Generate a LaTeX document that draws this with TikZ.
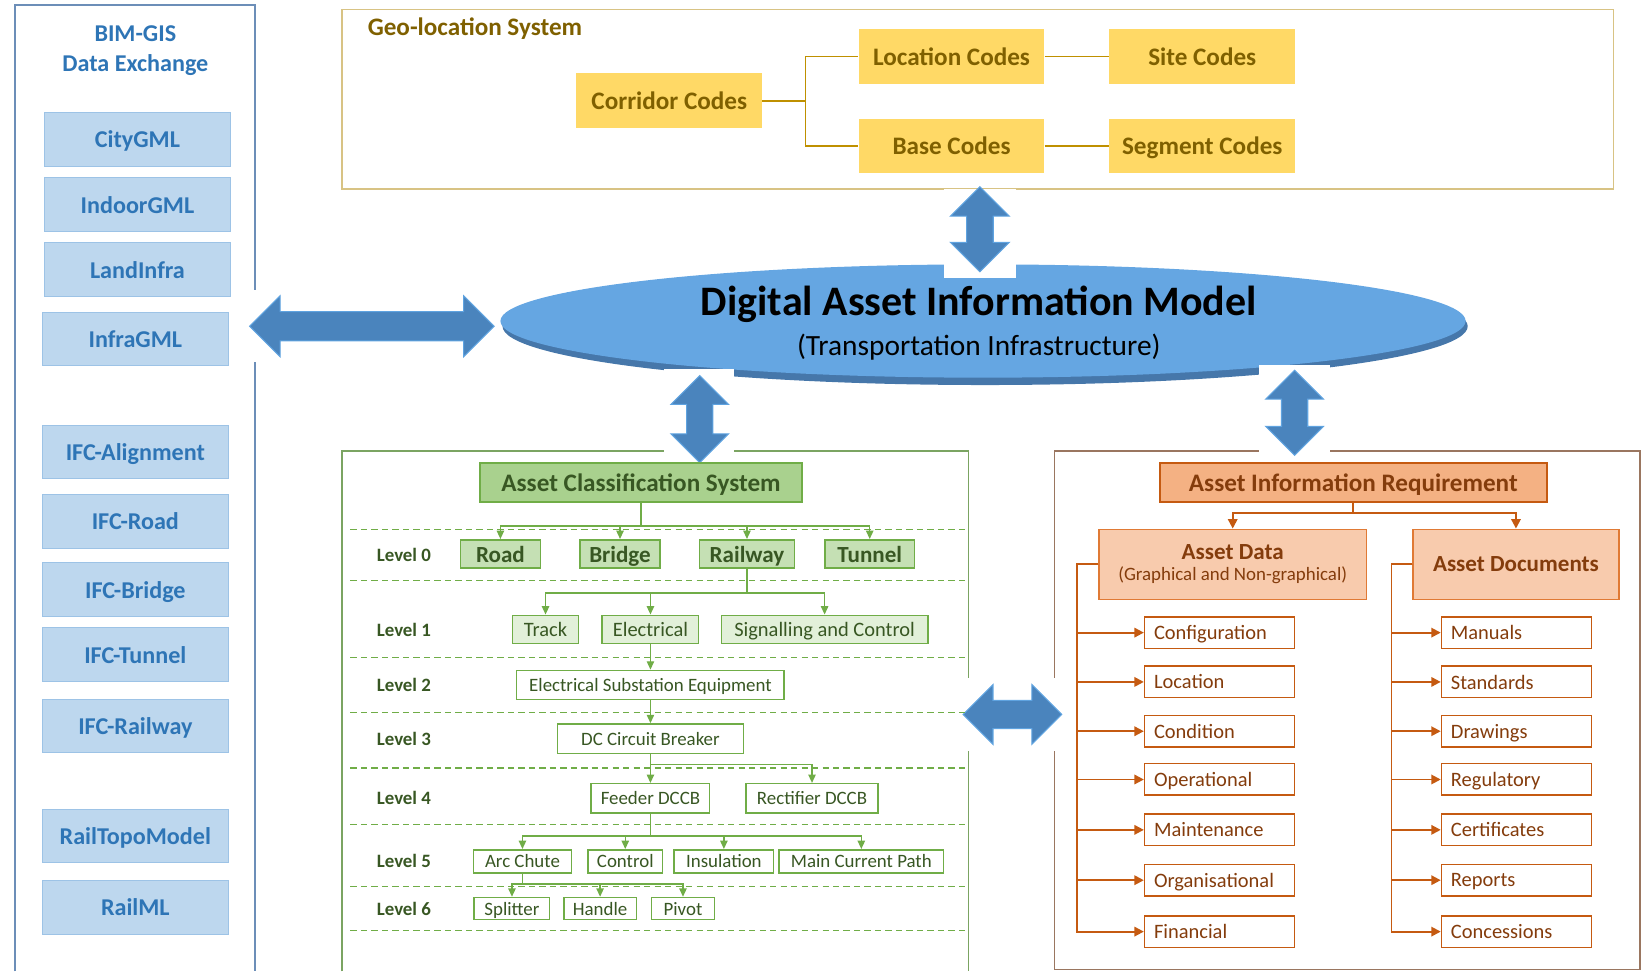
\documentclass[tikz,border=0pt]{standalone}
\usepackage{fontspec}
\setmainfont{Carlito}
\usetikzlibrary{shapes.geometric,shapes.arrows,arrows.meta}

\definecolor{gisfill}{HTML}{BDD7EE}
\definecolor{gisedge}{HTML}{9DC3E6}
\definecolor{gistext}{HTML}{2E75B6}
\definecolor{gisline}{HTML}{6C8EB8}
\definecolor{geoline}{HTML}{D8C384}
\definecolor{codefill}{HTML}{FFD966}
\definecolor{codetext}{HTML}{7F6000}
\definecolor{geolink}{HTML}{BF9000}
\definecolor{damfill}{HTML}{65A6E2}
\definecolor{damrim}{HTML}{4677AA}
\definecolor{arrowfill}{HTML}{4A84BD}
\definecolor{arrowedge}{HTML}{5FA3E0}
\definecolor{accline}{HTML}{7BA462}
\definecolor{accfill}{HTML}{A9D18E}
\definecolor{accedge}{HTML}{70AD47}
\definecolor{acctext}{HTML}{385723}
\definecolor{lvlzero}{HTML}{C5E0B4}
\definecolor{lvlone}{HTML}{E2F0D9}
\definecolor{airline}{HTML}{9A7660}
\definecolor{airfill}{HTML}{F4B183}
\definecolor{airedge}{HTML}{C55A11}
\definecolor{airtext}{HTML}{843C0C}
\definecolor{datafill}{HTML}{F8CBAD}
\definecolor{dataedge}{HTML}{E07A35}

\newcommand{\fsz}[1]{\fontsize{#1}{#1}\selectfont}

\tikzset{
  nodepth/.style={text depth=0pt},
  gisbox/.style={fill=gisfill, draw=gisedge, line width=1, text=gistext, nodepth,
    font=\bfseries\fsz{23}, minimum width=177, minimum height=51, inner sep=0},
  codebox/.style={fill=codefill, text=codetext, font=\bfseries\fsz{24}, nodepth,
    minimum width=177, minimum height=52, inner sep=0},
  geolinkline/.style={geolink, line width=1.6},
  bigarrow/.style={shape=double arrow, fill=arrowfill, draw=arrowedge, line width=1,
    inner xsep=0, double arrow head extend=15, double arrow head indent=0},
  levellabel/.style={text=acctext, font=\bfseries\fsz{18}},
  accbox/.style={draw=accedge, line width=1.4, text=acctext, inner sep=0, nodepth},
  lzbox/.style={accbox, fill=lvlzero, font=\bfseries\fsz{22}, minimum height=27},
  lobox/.style={accbox, fill=lvlone, font=\fsz{19.5}, minimum height=27},
  lnbox/.style={accbox, fill=white, font=\fsz{18}, minimum height=28},
  lsbox/.style={accbox, fill=white, font=\fsz{18}, minimum height=22},
  acclink/.style={accedge, line width=1.4, -{Triangle[width=7,length=8]}},
  airbox/.style={fill=datafill, draw=dataedge, line width=1.4, text=airtext, inner sep=0},
  itembox/.style={draw=airedge, line width=1.4, fill=white, text=airtext, font=\fsz{19.5},
    text width=125, inner xsep=9, inner ysep=0, minimum height=30, align=left, nodepth},
  airlink/.style={airedge, line width=1.8, -{Triangle[width=9,length=9]}}
}

\begin{document}
\begin{tikzpicture}[x=1pt,y=-1pt]
\useasboundingbox (0,0) rectangle (1568,925.6);

% panels
\draw [gisline, line width=1.6] (14,926) -- (14,5) -- (243,5) -- (243,926);
\draw [geoline, line width=1.6] (326,9) rectangle (1538,180);
\draw [accline, line width=1.4] (326,926) -- (326,430) -- (923,430) -- (923,926);
\draw [airline, line width=1.6] (1005,430) rectangle (1563,924);

% BIM-GIS data exchange
\node [text=gistext, font=\bfseries\fsz{23}, align=center] (gistitle) at (129,48.5)
  {BIM-GIS\\[6pt]Data Exchange};
\node [gisbox] (citygml) at (131,133) {CityGML};
\node [gisbox] (indoorgml) at (131,195) {IndoorGML};
\node [gisbox] (landinfra) at (131,257) {LandInfra};
\node [gisbox] (infragml) at (129,323) {InfraGML};
\node [gisbox] (ifcalign) at (129,431) {IFC-Alignment};
\node [gisbox] (ifcroad) at (129,497) {IFC-Road};
\node [gisbox] (ifcbridge) at (129,562) {IFC-Bridge};
\node [gisbox] (ifctunnel) at (129,624) {IFC-Tunnel};
\node [gisbox] (ifcrailway) at (129,692) {IFC-Railway};
\node [gisbox] (railtopo) at (129,797) {RailTopoModel};
\node [gisbox] (railml) at (129,865) {RailML};

% geo-location system
\node [text=codetext, font=\bfseries\fsz{24}, anchor=west] (geotitle) at (347,27) {Geo-location System};
\node [codebox] (corridor) at (638,96) {Corridor Codes};
\node [codebox] (location) at (907,54) {Location Codes};
\node [codebox] (base) at (907,139) {Base Codes};
\node [codebox] (site) at (1146,54) {Site Codes};
\node [codebox] (segment) at (1146,139) {Segment Codes};
\draw [geolinkline] (corridor.east) -- ++(41,0) |- (location.west);
\draw [geolinkline] (corridor.east) -- ++(41,0) |- (base.west);
\draw [geolinkline] (location) -- (site);
\draw [geolinkline] (base) -- (segment);

% digital asset information model
\fill [damrim] (939,311) ellipse [x radius=460, y radius=56];
\node [ellipse, fill=damfill, minimum width=920, minimum height=108] (dam) at (937,306) {};
\node [font=\bfseries\fsz{40}] (damtitle) at (933,290) {Digital Asset Information Model};
\node [font=\fsz{28}] (damsub) at (933,331) {(Transportation Infrastructure)};

% exchange arrows
\fill [white] (236,276) rectangle (475,345);
\fill [white] (900,180) rectangle (968,265);
\fill [white] (633,352) rectangle (700,444);
\fill [white] (1200,348) rectangle (1268,437);
\fill [white] (912,646) rectangle (1018,716);
\node [bigarrow, inner ysep=13.5, minimum width=54, minimum height=233] (gisarrow) at (354.5,311) {};
\node [bigarrow, inner ysep=12, minimum width=56, minimum height=81, rotate=90] (geoarrow) at (934,218.5) {};
\node [bigarrow, inner ysep=12, minimum width=54, minimum height=83, rotate=90] (accarrow) at (667,399.5) {};
\node [bigarrow, inner ysep=12, minimum width=54, minimum height=81, rotate=90] (airarrow) at (1234,393.5) {};
\node [bigarrow, inner ysep=13, minimum width=53, minimum height=94] (linkarrow) at (965,681) {};

% asset classification system
\node [accbox, fill=accfill, font=\bfseries\fsz{24}, minimum width=307, minimum height=37] (acs) at (611,460)
  {Asset Classification System};
\foreach \yy in {505,553,627,679,732,786,845,887}
  \draw [accedge, line width=1.2, dash pattern=on 6pt off 4pt] (334,\yy) -- (923,\yy);

\node [levellabel] (lvl0) at (385,529) {Level 0};
\node [levellabel] (lvl1) at (385,600) {Level 1};
\node [levellabel] (lvl2) at (385,653) {Level 2};
\node [levellabel] (lvl3) at (385,704) {Level 3};
\node [levellabel] (lvl4) at (385,761) {Level 4};
\node [levellabel] (lvl5) at (385,821) {Level 5};
\node [levellabel] (lvl6) at (385,866) {Level 6};

\node [lzbox, minimum width=76] (road) at (477,528) {Road};
\node [lzbox, minimum width=76] (bridge) at (591,528) {Bridge};
\node [lzbox, minimum width=91] (railway) at (712,528) {Railway};
\node [lzbox, minimum width=85] (tunnel) at (829,528) {Tunnel};

\node [lobox, minimum width=63] (track) at (520,600) {Track};
\node [lobox, minimum width=92] (electrical) at (620,600) {Electrical};
\node [lobox, minimum width=197] (signalling) at (786,600) {Signalling and Control};

\node [lnbox, minimum width=255] (ese) at (620,653) {Electrical Substation Equipment};
\node [lnbox, minimum width=177] (dccb) at (620,704) {DC Circuit Breaker};
\node [lnbox, minimum width=113] (feeder) at (620,761) {Feeder DCCB};
\node [lnbox, minimum width=126] (rectifier) at (774,761) {Rectifier DCCB};

\node [lsbox, minimum width=93] (arcchute) at (498,821) {Arc Chute};
\node [lsbox, minimum width=71] (control) at (596,821) {Control};
\node [lsbox, minimum width=95] (insulation) at (690,821) {Insulation};
\node [lsbox, minimum width=157] (mainpath) at (821,821) {Main Current Path};

\node [lsbox, minimum width=72, minimum height=21] (splitter) at (488,866) {Splitter};
\node [lsbox, minimum width=69, minimum height=21] (handle) at (572,866) {Handle};
\node [lsbox, minimum width=60, minimum height=21] (pivot) at (651,866) {Pivot};

\draw [acclink] (acs.south) -- ++(0,22) -| (road.north);
\draw [acclink] (acs.south) -- ++(0,22) -| (bridge.north);
\draw [acclink] (acs.south) -- ++(0,22) -| (railway.north);
\draw [acclink] (acs.south) -- ++(0,22) -| (tunnel.north);
\draw [acclink] (railway.south) -- ++(0,23) -| (track.north);
\draw [acclink] (railway.south) -- ++(0,23) -| (electrical.north);
\draw [acclink] (railway.south) -- ++(0,23) -| (signalling.north);
\draw [acclink] (electrical) -- (ese);
\draw [acclink] (ese) -- (dccb);
\draw [acclink] (dccb.south) -- ++(0,10) -| (feeder.north);
\draw [acclink] (dccb.south) -- ++(0,10) -| (rectifier.north);
\draw [acclink] (feeder.south) -- ++(0,21) -| (arcchute.north);
\draw [acclink] (feeder.south) -- ++(0,21) -| (control.north);
\draw [acclink] (feeder.south) -- ++(0,21) -| (insulation.north);
\draw [acclink] (feeder.south) -- ++(0,21) -| (mainpath.north);
\draw [acclink] (arcchute.south) -- ++(0,10) -| (splitter.north);
\draw [acclink] (arcchute.south) -- ++(0,10) -| (handle.north);
\draw [acclink] (arcchute.south) -- ++(0,10) -| (pivot.north);

% asset information requirement
\node [airbox, fill=airfill, draw=airedge, font=\bfseries\fsz{24}, nodepth, minimum width=369, minimum height=37] (air) at (1290,460)
  {Asset Information Requirement};
\node [airbox, minimum width=255, minimum height=67, align=center] (assetdata) at (1175,538)
  {{\bfseries\fsz{22}Asset Data}\\[6pt]{\fsz{18}(Graphical and Non-graphical)}};
\node [airbox, minimum width=196, minimum height=67, font=\bfseries\fsz{22}, nodepth] (assetdocs) at (1445,538) {Asset Documents};
\draw [airlink] (air.south) -- ++(0,10) -| (assetdata.north);
\draw [airlink] (air.south) -- ++(0,10) -| (assetdocs.north);

\node [itembox] (config) at (1162.5,603) {Configuration};
\node [itembox] (locat) at (1162.5,650) {Location};
\node [itembox] (condition) at (1162.5,697) {Condition};
\node [itembox] (operational) at (1162.5,743) {Operational};
\node [itembox] (maintenance) at (1162.5,791) {Maintenance};
\node [itembox] (organisational) at (1162.5,839) {Organisational};
\node [itembox] (financial) at (1162.5,888) {Financial};

\node [itembox] (manuals) at (1445.5,603) {Manuals};
\node [itembox] (standards) at (1445.5,650) {Standards};
\node [itembox] (drawings) at (1445.5,697) {Drawings};
\node [itembox] (regulatory) at (1445.5,743) {Regulatory};
\node [itembox] (certificates) at (1445.5,791) {Certificates};
\node [itembox] (reports) at (1445.5,839) {Reports};
\node [itembox] (concessions) at (1445.5,888) {Concessions};

\draw [airlink] (assetdata.west) -- ++(-20,0) |- (config.west);
\draw [airlink] (assetdata.west) -- ++(-20,0) |- (locat.west);
\draw [airlink] (assetdata.west) -- ++(-20,0) |- (condition.west);
\draw [airlink] (assetdata.west) -- ++(-20,0) |- (operational.west);
\draw [airlink] (assetdata.west) -- ++(-20,0) |- (maintenance.west);
\draw [airlink] (assetdata.west) -- ++(-20,0) |- (organisational.west);
\draw [airlink] (assetdata.west) -- ++(-20,0) |- (financial.west);
\draw [airlink] (assetdocs.west) -- ++(-20,0) |- (manuals.west);
\draw [airlink] (assetdocs.west) -- ++(-20,0) |- (standards.west);
\draw [airlink] (assetdocs.west) -- ++(-20,0) |- (drawings.west);
\draw [airlink] (assetdocs.west) -- ++(-20,0) |- (regulatory.west);
\draw [airlink] (assetdocs.west) -- ++(-20,0) |- (certificates.west);
\draw [airlink] (assetdocs.west) -- ++(-20,0) |- (reports.west);
\draw [airlink] (assetdocs.west) -- ++(-20,0) |- (concessions.west);
\end{tikzpicture}
\end{document}
